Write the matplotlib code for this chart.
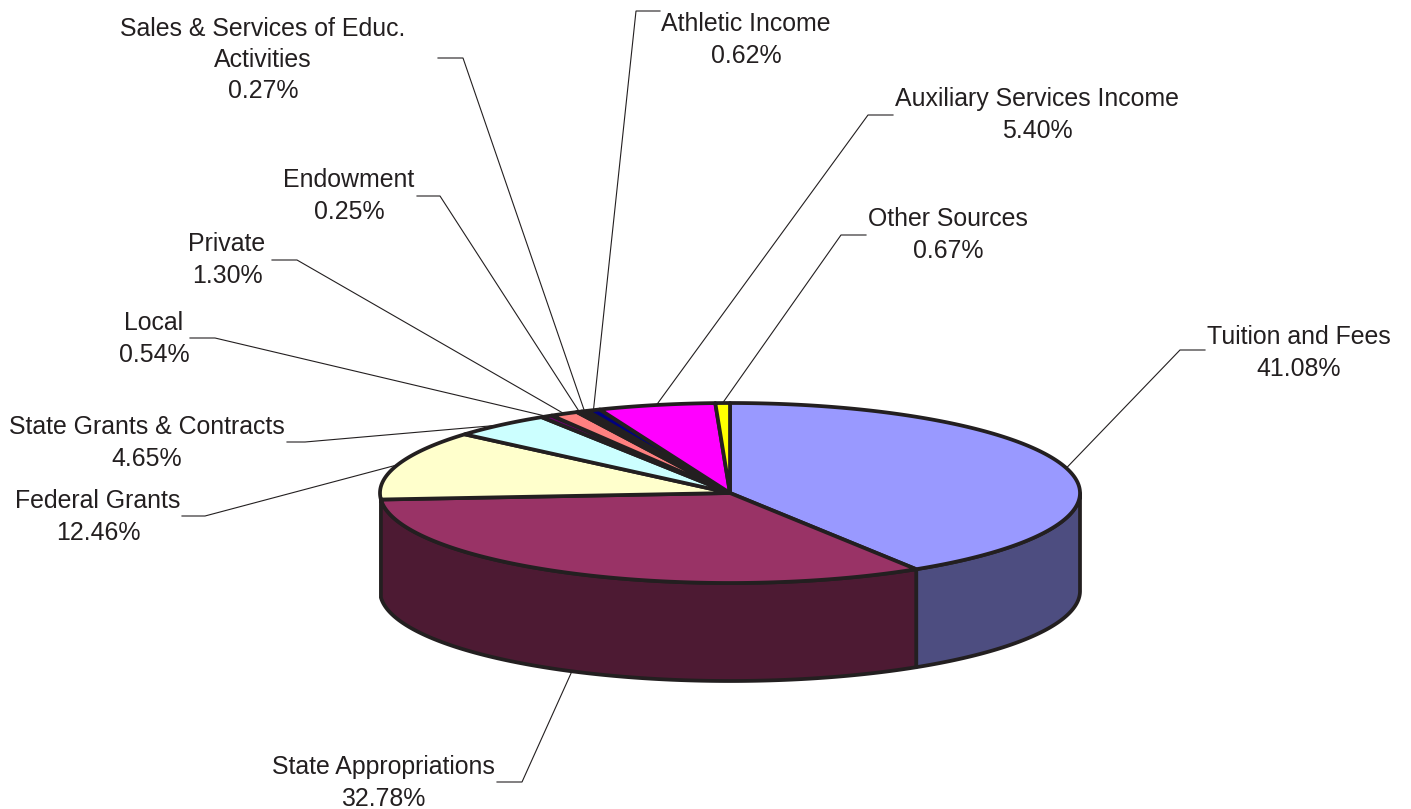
import numpy as np
import matplotlib.pyplot as plt
from matplotlib.patches import Polygon

plt.rcParams['font.family'] = ['Liberation Sans', 'DejaVu Sans']

## Chart data, clockwise from the top of the pie
names = ["Tuition and Fees", "State Appropriations", "Federal Grants",
         "State Grants & Contracts", "Local", "Private", "Endowment",
         "Sales & Services of Educ.\nActivities", "Athletic Income",
         "Auxiliary Services Income", "Other Sources"]
values = [41.08, 32.78, 12.46, 4.65, 0.54, 1.30, 0.25, 0.27, 0.62, 5.40, 0.67]
colors = ["#9999FF", "#993366", "#FFFFCC", "#CCFFFF", "#660066", "#FF8080",
          "#0066CC", "#CCCCFF", "#000080", "#FF00FF", "#FFFF00"]
side_colors = ["#4D4D80", "#4D1A33"]

## Layout, in pixels
cx, cy, rx, ry, depth = 730, 493, 350, 90, 98
edge = "#231F20"
label_x = [1299, 383, 98, 147, 154, 227, 349, 263, 746, 1037, 948]
label_y = [353, 783, 517, 443, 339, 260, 196, 60, 40, 115, 235]
elbow_x = [1180, 522, 205, 305, 215, 297, 440, 463, 636, 868, 841]
elbow_y = [350, 782, 516, 442, 338, 260, 196, 58, 11, 115, 235]
stub_x = [1205, 497, 182, 287, 190, 272, 417, 438, 660, 893, 866]

fig = plt.figure(figsize=(14.11, 8.09), dpi=100)
ax = fig.add_axes([0, 0, 1, 1])
ax.set_xlim(0, 1411)
ax.set_ylim(809, 0)
ax.axis("off")


def rim(a, dy=0):
    return cx + rx * np.sin(a), cy - ry * np.cos(a) + dy


stops = np.cumsum([0] + values) / sum(values) * 2 * np.pi

## Leader lines go under the pie
for i in range(len(values)):
    mid = (stops[i] + stops[i + 1]) / 2
    px, py = rim(mid, depth if i == 1 else 0)
    ax.plot([px, elbow_x[i], stub_x[i]], [py, elbow_y[i], elbow_y[i]],
            color=edge, lw=0.8, zorder=1, solid_joinstyle="miter")

## Side wall, only the part that faces the viewer
for i in range(2):
    a0 = max(stops[i], np.pi / 2)
    a1 = min(stops[i + 1], 3 * np.pi / 2)
    a = np.linspace(a0, a1, 200)
    x, y = rim(a)
    xb, yb = rim(a, depth)
    pts = np.column_stack([np.r_[x, xb[::-1]], np.r_[y, yb[::-1]]])
    ax.add_patch(Polygon(pts, closed=True, fc=side_colors[i], ec=edge,
                         lw=2.7, zorder=2, joinstyle="round"))

## Top face
for i in range(len(values)):
    a = np.linspace(stops[i], stops[i + 1], 200)
    x, y = rim(a)
    pts = np.column_stack([np.r_[cx, x], np.r_[cy, y]])
    ax.add_patch(Polygon(pts, closed=True, fc=colors[i], ec=edge,
                         lw=2.7, zorder=3, joinstyle="round"))

## Labels
for i in range(len(values)):
    ax.text(label_x[i], label_y[i], "%s\n%.2f%%" % (names[i], values[i]),
            ha="center", va="center", size=17.9, color=edge,
            linespacing=1.39, zorder=4)

fig.savefig("out.png", dpi=100)
